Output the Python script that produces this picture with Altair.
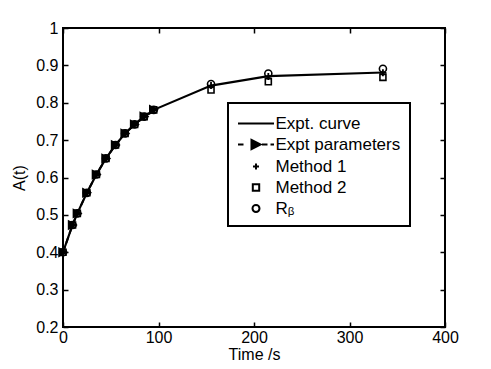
import altair as alt
import pandas as pd

# ---- data ----
times = [0, 10, 15, 25, 35, 45, 55, 65, 75, 85, 95, 155, 215, 335]
expt_curve = [0.400, 0.473, 0.504, 0.559, 0.608, 0.651, 0.687, 0.718, 0.742, 0.763, 0.781, 0.846, 0.871, 0.881]
params_times = [0, 10, 15, 25, 35, 45, 55, 65, 75, 85, 95]
expt_params = [0.400, 0.473, 0.504, 0.559, 0.608, 0.651, 0.687, 0.718, 0.742, 0.763, 0.781]
method1 = [0.400, 0.473, 0.504, 0.559, 0.608, 0.651, 0.687, 0.718, 0.742, 0.763, 0.781, 0.846, 0.870, 0.880]
method2 = [0.400, 0.473, 0.504, 0.559, 0.608, 0.651, 0.687, 0.718, 0.742, 0.763, 0.781, 0.834, 0.856, 0.868]
r_beta = [0.400, 0.473, 0.504, 0.559, 0.608, 0.651, 0.687, 0.718, 0.742, 0.763, 0.781, 0.850, 0.878, 0.891]

series_names = ["Expt. curve", "Expt parameters", "\u00a0Method 1", "Method 2", "R\u1d66"]
x_ticks = [0, 100, 200, 300, 400]
y_ticks = [0.2, 0.3, 0.4, 0.5, 0.6, 0.7, 0.8, 0.9, 1.0]

FONT = "Liberation Sans"
W, H = 382, 299

curve_df = pd.DataFrame({"t": times, "A": expt_curve})
params_df = pd.DataFrame({"t": params_times, "A": expt_params})
m1_df = pd.DataFrame({"t": times, "A": method1})
m2_df = pd.DataFrame({"t": times, "A": method2})
rb_df = pd.DataFrame({"t": times, "A": r_beta})
legend_df = pd.DataFrame({"series": series_names,
                          "t": [times[0]] * len(series_names),
                          "A": [expt_curve[0]] * len(series_names)})

xs = alt.Scale(domain=[0, 400], nice=False, zero=False)
ys = alt.Scale(domain=[0.2, 1.0], nice=False, zero=False)


def xenc():
    return alt.X("t:Q", scale=xs, axis=None, title=None)


def yenc():
    return alt.Y("A:Q", scale=ys, axis=None, title=None)


# main line with labelled axes
main_line = alt.Chart(curve_df).mark_line(color="black", strokeWidth=2.2).encode(
    x=alt.X("t:Q", scale=xs, axis=alt.Axis(
        orient="bottom", values=x_ticks, ticks=False, domain=False, grid=False,
        labelFlush=False, labelPadding=2, labelFont=FONT, labelFontSize=16, labelColor="black",
        title="Time /s", titleFont=FONT, titleFontSize=16, titleFontWeight="normal",
        titleColor="black", titlePadding=1)),
    y=alt.Y("A:Q", scale=ys, axis=alt.Axis(
        orient="left", values=y_ticks, format=".1~f", ticks=False, domain=False, grid=False,
        labelFlush=False, labelPadding=5, labelFont=FONT, labelFontSize=16, labelColor="black",
        title="A(t)", titleFont=FONT, titleFontSize=16, titleFontWeight="normal",
        titleColor="black", titlePadding=8)),
)


def tick_layer(xorient, yorient):
    return alt.Chart(curve_df).mark_point(size=0, opacity=0).encode(
        x=alt.X("t:Q", scale=xs, title=None, axis=alt.Axis(
            orient=xorient, offset=-H, values=x_ticks, labels=False, domain=False, grid=False,
            tickSize=5, tickWidth=1.5, tickColor="black")),
        y=alt.Y("A:Q", scale=ys, title=None, axis=alt.Axis(
            orient=yorient, offset=-W, values=y_ticks, labels=False, domain=False, grid=False,
            tickSize=5, tickWidth=1.5, tickColor="black")),
    )


ticks_a = tick_layer("top", "right")     # sits at bottom/left, ticks pointing inward
ticks_b = tick_layer("bottom", "left")   # sits at top/right, ticks pointing inward

dashed = alt.Chart(params_df).mark_line(color="black", strokeWidth=2, strokeDash=[6, 4]).encode(
    x=xenc(), y=yenc())

circles = alt.Chart(rb_df).mark_point(shape="circle", size=50, filled=False, color="black",
                                      strokeWidth=1.6, opacity=1).encode(x=xenc(), y=yenc())
squares = alt.Chart(m2_df).mark_point(shape="square", size=36, filled=False, color="black",
                                      strokeWidth=1.6, opacity=1).encode(x=xenc(), y=yenc())
plus = alt.Chart(m1_df).mark_point(shape="M-1,0H1M0,-1V1", size=49, filled=False, color="black",
                                   strokeWidth=1.8, opacity=1).encode(x=xenc(), y=yenc())
triangles = alt.Chart(params_df).mark_point(shape="M-0.9,-1L1,0L-0.9,1Z", size=110, filled=True,
                                            color="black", opacity=1).encode(x=xenc(), y=yenc())

# legend symbols (custom paths, unit r = sqrt(symbolSize)/2 = 10.5px)
legend_paths = [
    "M-1.714,0H1.714",
    "M-1.714,0H-1.19M-0.43,-0.43L0.43,0L-0.43,0.43ZM0.571,0H1.095M1.381,0H1.714",
    "M-0.286,0H0.286M0,-0.286V0.286",
    "M-0.305,-0.305H0.305V0.305H-0.305Z",
    "M-0.333,0A0.333,0.333 0 1,0 0.333,0A0.333,0.333 0 1,0 -0.333,0Z",
]
legend_fills = ["transparent", "black", "transparent", "transparent", "transparent"]
legend_strokes = ["black"] * len(series_names)

leg = alt.Legend(title=None, orient="none", legendX=165, legendY=75, strokeColor="black",
                 fillColor="white", padding=9, symbolSize=441, symbolStrokeWidth=2,
                 symbolStrokeColor="black", symbolOpacity=1, symbolOffset=7.5, labelOffset=8,
                 labelFont=FONT, labelFontSize=17, labelColor="black", labelLimit=300, rowPadding=1)

legend_layer = alt.Chart(legend_df).mark_point(size=0, opacity=0, color="black").encode(
    x=xenc(), y=yenc(),
    shape=alt.Shape("series:N", scale=alt.Scale(domain=series_names, range=legend_paths), legend=leg),
    fill=alt.Fill("series:N", scale=alt.Scale(domain=series_names, range=legend_fills), legend=leg),
    stroke=alt.Stroke("series:N", scale=alt.Scale(domain=series_names, range=legend_strokes), legend=leg),
)

chart = alt.layer(
    main_line, dashed, ticks_a, ticks_b, circles, squares, plus, triangles, legend_layer
).resolve_axis(x="independent", y="independent").properties(
    width=W, height=H,
    padding={"left": 55, "top": 20, "right": 38, "bottom": 45},
    autosize=alt.AutoSizeParams(type="none"),
    background="white",
).configure_view(stroke="black", strokeWidth=2).configure_legend(strokeWidth=2)

chart.save("out.html", embed_options={"renderer": "svg", "actions": False})
